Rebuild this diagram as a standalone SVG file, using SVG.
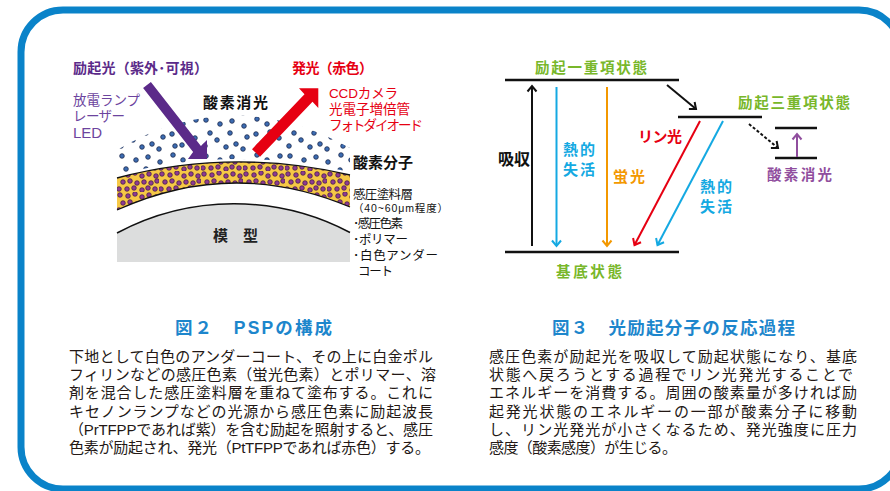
<svg xmlns="http://www.w3.org/2000/svg" width="890" height="491" viewBox="0 0 890 491">
  <style>
    text { font-family: "Liberation Sans", "Noto Sans CJK JP", sans-serif; }
    .b { font-weight: 700; }
    .body { font-size: 15px; fill: #231815; }
    .cap { font-size: 17.5px; font-weight: 700; fill: #1D86CC; }
    .lvl { stroke: #111; stroke-width: 2.6; fill: none; }
    .ar { stroke-width: 2; fill: none; }
    .green { fill: #78B72A; }
    .cyan { fill: #14A9E2; }
  </style>
  <defs>
    <marker id="mk-k" viewBox="-7 -6 9 12" markerWidth="9" markerHeight="12" refX="0" refY="0" orient="auto" markerUnits="userSpaceOnUse">
      <path d="M-5.5,-4.5 L0,0 L-5.5,4.5" fill="none" stroke="#111" stroke-width="2"/>
    </marker>
    <marker id="mk-c" viewBox="-7 -6 9 12" markerWidth="9" markerHeight="12" refX="0" refY="0" orient="auto" markerUnits="userSpaceOnUse">
      <path d="M-5.5,-4.5 L0,0 L-5.5,4.5" fill="none" stroke="#14A9E2" stroke-width="2"/>
    </marker>
    <marker id="mk-o" viewBox="-7 -6 9 12" markerWidth="9" markerHeight="12" refX="0" refY="0" orient="auto" markerUnits="userSpaceOnUse">
      <path d="M-5.5,-4.5 L0,0 L-5.5,4.5" fill="none" stroke="#F39800" stroke-width="2"/>
    </marker>
    <marker id="mk-r" viewBox="-7 -6 9 12" markerWidth="9" markerHeight="12" refX="0" refY="0" orient="auto" markerUnits="userSpaceOnUse">
      <path d="M-5.5,-4.5 L0,0 L-5.5,4.5" fill="none" stroke="#E60012" stroke-width="2"/>
    </marker>
    <marker id="mk-p" viewBox="-7 -6 9 12" markerWidth="9" markerHeight="12" refX="0" refY="0" orient="auto" markerUnits="userSpaceOnUse">
      <path d="M-5.5,-4.5 L0,0 L-5.5,4.5" fill="none" stroke="#904E9E" stroke-width="2"/>
    </marker>

    <!-- oxygen molecules: jittered tile -->
    <pattern id="o2" x="117" y="80" width="84" height="36" patternUnits="userSpaceOnUse">
      <g fill="#3C6CB2" stroke="#16254A" stroke-width="0.8">
        <circle cx="5" cy="4" r="2.3"/><circle cx="19" cy="8" r="2.3"/><circle cx="31" cy="5" r="2.3"/>
        <circle cx="43" cy="10" r="2.3"/><circle cx="56" cy="3" r="2.3"/><circle cx="66" cy="8" r="2.3"/>
        <circle cx="79" cy="4" r="2.3"/>
        <circle cx="9" cy="17" r="2.3"/><circle cx="16" cy="24" r="2.3"/><circle cx="29" cy="17" r="2.3"/>
        <circle cx="46" cy="21" r="2.3"/><circle cx="55" cy="18" r="2.3"/><circle cx="69" cy="16" r="2.3"/>
        <circle cx="78" cy="22" r="2.3"/>
        <circle cx="4" cy="30" r="2.3"/><circle cx="25" cy="31" r="2.3"/><circle cx="35" cy="28" r="2.3"/>
        <circle cx="42" cy="33" r="2.3"/><circle cx="58" cy="30" r="2.3"/><circle cx="65" cy="29" r="2.3"/>
      </g>
    </pattern>
    <!-- dye molecules inside the coating -->
    <pattern id="dye" x="117" y="150" width="42" height="21" patternUnits="userSpaceOnUse">
      <g fill="#8E3B92" stroke="#3A163F" stroke-width="0.7">
        <circle cx="3" cy="3" r="2.3"/><circle cx="11" cy="4" r="2.3"/><circle cx="18" cy="2" r="2.3"/>
        <circle cx="25" cy="5" r="2.3"/><circle cx="32" cy="3" r="2.3"/><circle cx="39" cy="5" r="2.3"/>
        <circle cx="6" cy="11" r="2.3"/><circle cx="13" cy="10" r="2.3"/><circle cx="20" cy="12" r="2.3"/>
        <circle cx="27" cy="11" r="2.3"/><circle cx="34" cy="12" r="2.3"/><circle cx="40" cy="10" r="2.3"/>
        <circle cx="2" cy="18" r="2.3"/><circle cx="10" cy="18" r="2.3"/><circle cx="17" cy="17" r="2.3"/>
        <circle cx="25" cy="19" r="2.3"/><circle cx="31" cy="17" r="2.3"/><circle cx="38" cy="18" r="2.3"/>
      </g>
    </pattern>
    <clipPath id="air">
      <path d="M117,175 Q233,144.5 350,172 L350,148 Q232,82 117,150 Z"/>
    </clipPath>
    <clipPath id="coat">
      <path d="M117,178 Q233,147.5 350,175 L350,207 Q233,157.5 117,210 Z"/>
    </clipPath>
  </defs>

  <rect width="890" height="491" fill="#FFFFFF"/>
  <!-- frame -->
  <rect x="21" y="10" width="880" height="479" rx="42" ry="42" fill="none" stroke="#0A83C9" stroke-width="7"/>

  <!-- ===== PSP structure ===== -->
  <g id="model">
    <path d="M117,233 A248.5,248.5 0 0 1 350,232.5 V262 H117 Z" fill="#DCDDDD"/>
    <path d="M117,233 A248.5,248.5 0 0 1 350,232.5" fill="none" stroke="#111" stroke-width="1.5"/>
    <text x="213" y="241" class="b" font-size="15" fill="#222" textLength="45">模　型</text>
  </g>
  <g id="coating">
    <path d="M117,178 Q233,147.5 350,175 L350,207 Q233,157.5 117,210 Z" fill="#F6C846"/>
    <rect x="117" y="140" width="233" height="75" fill="url(#dye)" clip-path="url(#coat)"/>
    <path d="M117,178 Q233,147.5 350,175" fill="none" stroke="#111" stroke-width="1.3"/>
    <path d="M117,210 Q233,157.5 350,207" fill="none" stroke="#111" stroke-width="1.3"/>
  </g>
  <g id="oxygen">
    <rect x="117" y="80" width="233" height="100" fill="url(#o2)" clip-path="url(#air)"/>
  </g>
  <g id="excitation">
    <polygon points="150.9,81.9 200.9,145.9 207,140 207,159 188,159 193.1,152.1 143.1,88.1" fill="#5B2A89"/>
    <text x="73" y="73" class="b" font-size="14" fill="#5B2A89" textLength="135">励起光（紫外･可視）</text>
    <g font-size="13.5" fill="#6C449E">
      <text x="73" y="105" textLength="67">放電ランプ</text>
      <text x="73" y="121" textLength="52">レーザー</text>
      <text x="73" y="138" font-size="15">LED</text>
    </g>
  </g>
  <g id="emission">
    <polygon points="252,149.2 304.5,94.2 299,88.3 318.3,88.3 318.3,108 312.5,101.8 260,156.8" fill="#E60012"/>
    <text x="292" y="73" class="b" font-size="14" fill="#E60012" textLength="81">発光（赤色）</text>
    <g font-size="13.5" fill="#E60012">
      <text x="329" y="98" textLength="69">CCDカメラ</text>
      <text x="329" y="114" textLength="81">光電子増倍管</text>
      <text x="329" y="130" textLength="94">フォトダイオード</text>
    </g>
  </g>
  <g id="psp-labels" fill="#111">
    <text x="203" y="108" class="b" font-size="15" textLength="65">酸素消光</text>
    <text x="353" y="168" class="b" font-size="15" textLength="60">酸素分子</text>
    <g font-size="12.5">
      <text x="353" y="199" textLength="60">感圧塗料層</text>
      <text x="353" y="211.8" font-size="10.5" textLength="95">（40~60μm程度）</text>
      <text x="353" y="228" textLength="50">･感圧色素</text>
      <text x="353" y="244" textLength="55">･ポリマー</text>
      <text x="353" y="260" textLength="85">･白色アンダー</text>
      <text x="358" y="276" textLength="35">コート</text>
    </g>
  </g>

  <!-- ===== energy diagram ===== -->
  <g id="s1">
    <line x1="505" y1="80" x2="679" y2="80" class="lvl"/>
    <text x="535" y="73" class="b green" font-size="14.5" textLength="112">励起一重項状態</text>
  </g>
  <g id="s0">
    <line x1="505" y1="252" x2="679" y2="252" class="lvl"/>
    <text x="556" y="277" class="b green" font-size="14.5" textLength="66">基底状態</text>
  </g>
  <g id="t1">
    <line x1="678" y1="117" x2="762" y2="117" class="lvl"/>
    <text x="738" y="108" class="b green" font-size="14.5" textLength="112">励起三重項状態</text>
  </g>
  <g id="o2-levels">
    <line x1="775" y1="128" x2="817" y2="128" class="lvl"/>
    <line x1="775" y1="158" x2="817" y2="158" class="lvl"/>
    <text x="767" y="180" class="b" font-size="14.5" fill="#904E9E" textLength="65">酸素消光</text>
  </g>
  <g id="transitions">
    <line x1="532" y1="246" x2="532" y2="86" class="ar" stroke="#111" marker-end="url(#mk-k)"/>
    <line x1="556.5" y1="87" x2="556.5" y2="246" class="ar" stroke="#14A9E2" marker-end="url(#mk-c)"/>
    <line x1="607" y1="87" x2="607" y2="246" class="ar" stroke="#F39800" marker-end="url(#mk-o)"/>
    <line x1="667" y1="85" x2="696" y2="109" class="ar" stroke="#111" marker-end="url(#mk-k)"/>
    <line x1="700" y1="121" x2="634.5" y2="245" class="ar" stroke="#E60012" marker-end="url(#mk-r)"/>
    <line x1="723" y1="121" x2="657.5" y2="245" class="ar" stroke="#14A9E2" marker-end="url(#mk-c)"/>
    <line x1="749" y1="124" x2="778" y2="148" class="ar" stroke="#111" stroke-dasharray="3 2" marker-end="url(#mk-k)"/>
    <line x1="797" y1="157" x2="797" y2="134" class="ar" stroke="#904E9E" marker-end="url(#mk-p)"/>
  </g>
  <g id="transition-labels">
    <text x="498" y="165" class="b" font-size="16" fill="#111" textLength="32">吸収</text>
    <text x="563" y="155" class="b cyan" font-size="15" textLength="32">熱的</text>
    <text x="563" y="175" class="b cyan" font-size="15" textLength="32">失活</text>
    <text x="613" y="182" class="b" font-size="15" fill="#F39800" textLength="32">蛍光</text>
    <text x="638" y="142" class="b" font-size="15" fill="#E60012" textLength="44">リン光</text>
    <text x="700" y="192" class="b cyan" font-size="15" textLength="32">熱的</text>
    <text x="700" y="212" class="b cyan" font-size="15" textLength="32">失活</text>
  </g>

  <!-- ===== captions ===== -->
  <g id="caption-2">
    <text x="175" y="334" class="cap" textLength="157">図２　PSPの構成</text>
    <g class="body">
      <text x="69" y="362" textLength="364">下地として白色のアンダーコート、その上に白金ポル</text>
      <text x="69" y="380.2" textLength="367">フィリンなどの感圧色素（蛍光色素）とポリマー、溶</text>
      <text x="69" y="398.4" textLength="364">剤を混合した感圧塗料層を重ねて塗布する。これに</text>
      <text x="69" y="416.6" textLength="364">キセノンランプなどの光源から感圧色素に励起波長</text>
      <text x="69" y="434.8" textLength="364">（PrTFPPであれば紫）を含む励起を照射すると、感圧</text>
      <text x="69" y="453" textLength="361">色素が励起され、発光（PtTFPPであれば赤色）する。</text>
    </g>
  </g>
  <g id="caption-3">
    <text x="552" y="334" class="cap" textLength="243">図３　光励起分子の反応過程</text>
    <g class="body">
      <text x="489" y="362" textLength="368">感圧色素が励起光を吸収して励起状態になり、基底</text>
      <text x="489" y="380.2" textLength="364">状態へ戻ろうとする過程でリン光発光することで</text>
      <text x="489" y="398.4" textLength="368">エネルギーを消費する。周囲の酸素量が多ければ励</text>
      <text x="489" y="416.6" textLength="368">起発光状態のエネルギーの一部が酸素分子に移動</text>
      <text x="489" y="434.8" textLength="368">し、リン光発光が小さくなるため、発光強度に圧力</text>
      <text x="489" y="453" textLength="188">感度（酸素感度）が生じる。</text>
    </g>
  </g>
</svg>
